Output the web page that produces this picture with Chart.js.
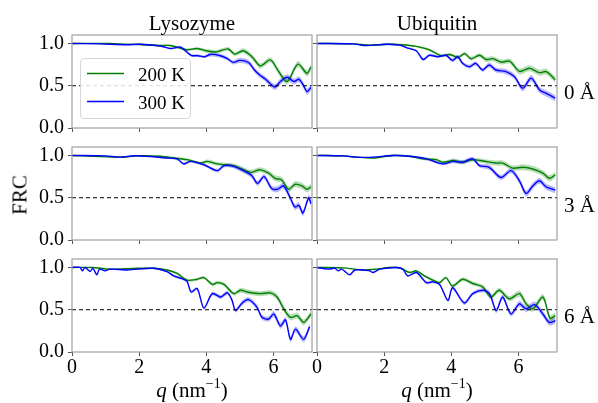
<!DOCTYPE html>
<html>
<head>
<meta charset="utf-8">
<script src="https://cdn.jsdelivr.net/npm/chart.js@4.4.0/dist/chart.umd.min.js"></script>
<style>
body{margin:0;width:598px;height:403px;position:relative;background:#fff;overflow:hidden;font-family:"Liberation Serif","DejaVu Serif",serif;color:#000}
canvas{position:absolute}
.t{position:absolute;transform:translate(-50%,-50%);line-height:1;white-space:nowrap;font-size:21px;z-index:3}
.side{position:absolute;transform:translate(0,-50%);line-height:1;white-space:nowrap;font-size:21px;z-index:3}
#legend{position:absolute;left:80px;top:58px;width:111px;height:61px;border:1px solid #d6d6d6;border-radius:4px;background:rgba(255,255,255,0.85);z-index:4;box-sizing:border-box}
#legend svg{position:absolute;left:0;top:0}
#legend .lt{position:absolute;left:57px;font-size:19px;line-height:1;transform:translateY(-50%)}
.sup{font-size:14px;position:relative;top:-9px}
</style>
</head>
<body>

<div class="t" style="left:192px;top:23px">Lysozyme</div>
<div class="t" style="left:437px;top:23px">Ubiquitin</div>
<div class="t" style="left:20px;top:195px;transform:translate(-50%,-50%) rotate(-90deg)">FRC</div>
<div class="side" style="left:564px;top:92px">0 Å</div>
<div class="side" style="left:564px;top:205px">3 Å</div>
<div class="side" style="left:564px;top:316px">6 Å</div>
<div class="t" style="left:192px;top:390px"><i>q</i> (nm<span class="sup">−1</span>)</div>
<div class="t" style="left:437px;top:390px"><i>q</i> (nm<span class="sup">−1</span>)</div>

<div id="legend">
  <svg width="50" height="59">
    <line x1="6" y1="14.5" x2="43" y2="14.5" stroke="#008000" stroke-width="1.4"/>
    <line x1="6" y1="42.5" x2="43" y2="42.5" stroke="#0000ff" stroke-width="1.4"/>
  </svg>
  <div class="lt" style="top:15px">200 K</div>
  <div class="lt" style="top:43px">300 K</div>
</div>

<script>
// tick labels and ranges
const xTicks = [0, 2, 4, 6]
const yTicks = [0, 0.5, 1.0]
const xMax = 7.15
const yMax = 1.1
const threshold = 0.5

// band half width by q bin (upper bin edges)
const errQ = [2, 3, 4, 5, 6, 99]
const errV = [0.005, 0.01, 0.016, 0.023, 0.03, 0.036]

// [q, FRC]
const lys0_200 = [[0,1.0],[1.13,1.0],[1.64,0.99],[2.03,0.988],[2.63,0.976],[2.93,0.975],[3.23,0.945],[3.43,0.925],[3.73,0.94],[4.03,0.91],[4.3,0.9],[4.65,0.935],[4.85,0.874],[5.1,0.913],[5.36,0.843],[5.61,0.735],[5.91,0.805],[6.16,0.666],[6.41,0.55],[6.73,0.755],[7.0,0.647],[7.12,0.72]]
const lys0_300 = [[0,1.0],[0.83,0.995],[1.64,0.985],[2.03,0.99],[2.63,0.97],[2.93,0.94],[3.23,0.955],[3.55,0.86],[3.75,0.855],[3.95,0.843],[4.12,0.87],[4.42,0.855],[4.63,0.82],[4.8,0.776],[5.0,0.8],[5.26,0.775],[5.43,0.69],[5.61,0.62],[5.76,0.58],[6.04,0.485],[6.21,0.55],[6.41,0.6],[6.61,0.55],[6.76,0.576],[6.9,0.5],[7.0,0.43],[7.12,0.48]]

const ubi0_200 = [[0,1.0],[1.08,0.995],[1.57,0.98],[2.07,0.99],[2.56,0.985],[2.96,0.965],[3.35,0.925],[3.7,0.855],[3.95,0.87],[4.2,0.835],[4.4,0.88],[4.59,0.82],[4.84,0.86],[5.04,0.81],[5.24,0.82],[5.49,0.78],[5.74,0.79],[6.03,0.67],[6.33,0.706],[6.63,0.655],[6.83,0.666],[7.1,0.57]]
const ubi0_300 = [[0,1.0],[1.08,0.995],[1.47,0.975],[2.07,0.99],[2.46,0.98],[2.7,0.945],[2.96,0.913],[3.16,0.81],[3.35,0.86],[3.6,0.843],[3.84,0.86],[4.04,0.8],[4.19,0.843],[4.34,0.765],[4.54,0.725],[4.73,0.765],[4.93,0.686],[5.13,0.745],[5.33,0.686],[5.63,0.667],[5.88,0.608],[6.13,0.47],[6.38,0.59],[6.63,0.45],[6.83,0.41],[7.1,0.353]]

const lys3_200 = [[0,1.0],[0.64,0.99],[1.43,0.98],[1.93,0.996],[2.63,0.99],[3.03,0.97],[3.43,0.95],[3.83,0.91],[4.03,0.93],[4.33,0.9],[4.53,0.89],[4.82,0.88],[5.06,0.84],[5.31,0.8],[5.61,0.83],[5.86,0.79],[6.05,0.73],[6.25,0.71],[6.45,0.6],[6.65,0.66],[6.85,0.64],[7.0,0.6],[7.12,0.63]]
const lys3_300 = [[0,1.0],[1.0,0.995],[1.43,0.98],[1.93,0.996],[2.83,0.97],[3.13,0.96],[3.33,0.9],[3.53,0.93],[3.93,0.89],[4.33,0.82],[4.53,0.88],[4.82,0.87],[5.21,0.8],[5.36,0.76],[5.53,0.67],[5.72,0.75],[5.95,0.61],[6.12,0.6],[6.3,0.64],[6.5,0.5],[6.64,0.39],[6.76,0.41],[6.88,0.32],[7.05,0.5],[7.12,0.43]]

const ubi3_200 = [[0,1.0],[0.78,0.995],[1.18,0.98],[1.67,0.97],[2.27,1.0],[2.76,0.99],[3.16,0.96],[3.55,0.95],[3.75,0.92],[4.05,0.94],[4.34,0.92],[4.64,0.95],[4.94,0.935],[5.33,0.91],[5.53,0.91],[5.83,0.85],[6.13,0.86],[6.43,0.84],[6.73,0.79],[6.92,0.73],[7.1,0.77]]
const ubi3_300 = [[0,1.0],[0.78,0.995],[1.18,0.98],[1.67,0.98],[2.27,1.0],[2.76,0.99],[3.26,0.96],[3.75,0.9],[4.05,0.93],[4.34,0.92],[4.64,0.96],[4.84,0.88],[5.13,0.86],[5.48,0.74],[5.78,0.82],[6.03,0.7],[6.23,0.55],[6.43,0.64],[6.63,0.7],[6.82,0.63],[7.1,0.59]]

const lys6_200 = [[0,1.0],[0.6,1.0],[1.13,0.98],[1.93,0.99],[2.43,0.99],[2.83,0.97],[3.13,0.93],[3.43,0.85],[3.73,0.86],[3.93,0.88],[4.18,0.8],[4.33,0.82],[4.53,0.8],[4.82,0.69],[5.02,0.73],[5.22,0.71],[5.61,0.69],[5.91,0.7],[6.11,0.65],[6.31,0.51],[6.51,0.41],[6.71,0.43],[6.9,0.35],[7.12,0.45]]
const lys6_300 = [[0,1.0],[0.24,1.0],[0.31,0.96],[0.39,1.0],[0.54,0.953],[0.62,0.99],[0.74,0.914],[0.82,0.98],[0.99,0.96],[1.13,0.98],[1.63,0.97],[2.43,0.99],[2.83,0.95],[3.03,0.9],[3.33,0.86],[3.43,0.835],[3.55,0.71],[3.73,0.75],[3.93,0.52],[4.18,0.69],[4.43,0.65],[4.63,0.7],[4.77,0.61],[4.87,0.49],[5.07,0.58],[5.26,0.62],[5.51,0.53],[5.66,0.41],[5.86,0.39],[6.01,0.45],[6.21,0.31],[6.36,0.38],[6.51,0.15],[6.66,0.27],[6.9,0.15],[7.08,0.3]]

const ubi6_200 = [[0,1.0],[0.78,0.995],[1.37,0.97],[1.77,0.98],[2.17,1.0],[2.46,0.995],[2.76,0.94],[2.96,0.96],[3.2,0.9],[3.45,0.85],[3.65,0.82],[3.84,0.88],[4.04,0.78],[4.34,0.86],[4.64,0.81],[4.94,0.77],[5.18,0.65],[5.43,0.73],[5.73,0.63],[6.03,0.69],[6.23,0.57],[6.43,0.51],[6.73,0.65],[6.94,0.4],[7.1,0.43]]
const ubi6_300 = [[0,1.0],[0.33,0.98],[0.53,0.99],[0.63,0.96],[0.73,0.98],[0.83,0.953],[0.98,0.914],[1.13,0.97],[1.57,0.96],[1.67,0.94],[1.87,0.98],[2.36,1.0],[2.56,0.98],[2.7,0.9],[2.96,0.94],[3.26,0.82],[3.45,0.83],[3.65,0.8],[3.9,0.61],[4.04,0.76],[4.39,0.58],[4.64,0.69],[4.94,0.73],[5.14,0.69],[5.34,0.49],[5.53,0.65],[5.78,0.45],[6.03,0.57],[6.23,0.51],[6.48,0.56],[6.73,0.45],[6.92,0.35],[7.1,0.37]]

const panels = [
  {row:0, col:0, g:lys0_200, b:lys0_300},
  {row:0, col:1, g:ubi0_200, b:ubi0_300},
  {row:1, col:0, g:lys3_200, b:lys3_300},
  {row:1, col:1, g:ubi3_200, b:ubi3_300},
  {row:2, col:0, g:lys6_200, b:lys6_300},
  {row:2, col:1, g:ubi6_200, b:ubi6_300}
]

Chart.defaults.font.family = "'Liberation Serif', 'DejaVu Serif', serif"
Chart.defaults.font.size = 20
Chart.defaults.color = "#000"

// layout of the grid
const colLeft = [0, 312], colWidth = [314, 248], yAxisW = [72, 5], padRight = [2, 3]
const rowTop = [35, 147, 259], chartH = 93, padTop = 12

const GREEN = "#008000", BLUE = "#0000ff"

function errAt(q){
  for(let i = 0; i < errQ.length; i++) if(q < errQ[i]) return errV[i]
  return errV[errV.length - 1]
}

function pts(arr, s){
  return arr.map(p => ({x: p[0], y: p[1] + s * errAt(p[0])}))
}

const framePlugin = {
  id: "frame",
  afterDraw(c){
    const a = c.chartArea, g = c.ctx
    g.save()
    g.strokeStyle = "#a0a0a0"
    g.lineWidth = 1.2
    g.strokeRect(a.left, a.top, a.right - a.left, a.bottom - a.top)
    g.restore()
  }
}

panels.forEach(p => {
  const bottomRow = p.row === 2
  const xAxisH = bottomRow ? 30 : 14
  const cv = document.createElement("canvas")
  const w = colWidth[p.col], h = padTop + chartH + xAxisH
  cv.width = w
  cv.height = h
  cv.style.width = w + "px"
  cv.style.height = h + "px"
  cv.style.left = colLeft[p.col] + "px"
  cv.style.top = (rowTop[p.row] - padTop) + "px"
  document.body.appendChild(cv)

  const band = {pointRadius: 0, borderWidth: 0, tension: 0.3}
  const line = {pointRadius: 0, borderWidth: 1.4, tension: 0.3, fill: false}

  new Chart(cv, {
    type: "line",
    data: {
      datasets: [
        {data: [{x: 0, y: threshold}, {x: xMax, y: threshold}], borderColor: "#000", borderWidth: 1, borderDash: [4, 3], pointRadius: 0, fill: false, order: 0},
        Object.assign({data: pts(p.g, -1), fill: false, order: 4}, band),
        Object.assign({data: pts(p.g, 1), fill: "-1", backgroundColor: "rgba(0,128,0,0.28)", order: 4}, band),
        Object.assign({data: pts(p.b, -1), fill: false, order: 3}, band),
        Object.assign({data: pts(p.b, 1), fill: "-1", backgroundColor: "rgba(0,0,255,0.28)", order: 3}, band),
        Object.assign({data: p.g.map(d => ({x: d[0], y: d[1]})), borderColor: GREEN, order: 2}, line),
        Object.assign({data: p.b.map(d => ({x: d[0], y: d[1]})), borderColor: BLUE, order: 1}, line)
      ]
    },
    options: {
      responsive: false,
      animation: false,
      layout: {padding: {top: padTop, right: padRight[p.col], left: 0, bottom: 0}},
      plugins: {legend: {display: false}, tooltip: {enabled: false}},
      scales: {
        x: {
          type: "linear", min: 0, max: xMax,
          border: {display: false},
          grid: {display: true, drawOnChartArea: false, drawTicks: true, tickLength: 4, color: "#555"},
          ticks: {display: bottomRow, padding: 0, maxRotation: 0, callback: v => String(v)},
          afterBuildTicks: s => { s.ticks = xTicks.map(v => ({value: v})) },
          afterFit: s => { s.height = xAxisH; s.paddingLeft = 0; s.paddingRight = 0 }
        },
        y: {
          type: "linear", min: 0, max: yMax,
          border: {display: false},
          grid: {display: true, drawOnChartArea: false, drawTicks: true, tickLength: 4, color: "#555"},
          ticks: {display: p.col === 0, padding: 4, callback: v => v.toFixed(1)},
          afterBuildTicks: s => { s.ticks = yTicks.map(v => ({value: v})) },
          afterFit: s => { s.width = yAxisW[p.col]; s.paddingTop = 0; s.paddingBottom = 0 }
        }
      }
    },
    plugins: [framePlugin]
  })
})
</script>
</body>
</html>
